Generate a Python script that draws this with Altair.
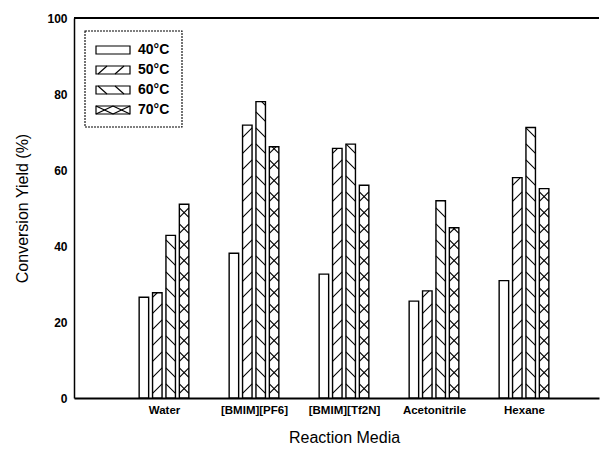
import json
import altair as alt
import pandas as pd

# ---------------- data ----------------
media = ["Water", "[BMIM][PF6]", "[BMIM][Tf2N]", "Acetonitrile", "Hexane"]
temps = ["40°C", "50°C", "60°C", "70°C"]
yield_40 = [26.5, 38.1, 32.6, 25.5, 30.9]
yield_50 = [27.7, 71.8, 65.7, 28.2, 58.0]
yield_60 = [42.8, 78.0, 66.8, 51.9, 71.2]
yield_70 = [51.0, 66.1, 56.0, 44.8, 55.1]
y_ticks = [0, 20, 40, 60, 80, 100]

# ---------------- layout / style ----------------
W, H = 525, 380
PX_X = 90.0                 # pixels per category step
PX_Y = H / 100.0            # pixels per percent
X_MAX = W / PX_X
STEP = 13.4 / PX_X          # distance between bars in a group
HALF = 4.75 / PX_X          # half bar width
PERIOD = 16 / PX_Y          # hatch repeat (y units)
RISE = 9.5 / PX_Y           # hatch rise across a bar
PHASE = 1.2
patterns = ["none", "fwd", "back", "cross"]
FONT = "Liberation Sans"


def ux(px):
    return px / PX_X


def uy(py):
    return 100 - py / PX_Y


def clip_seg(x0, y0, x1, y1, lo, hi):
    dy = y1 - y0
    ta, tb = (lo - y0) / dy, (hi - y0) / dy
    t0 = max(0.0, min(ta, tb))
    t1 = min(1.0, max(ta, tb))
    if t1 - t0 < 0.04:
        return None
    return (x0 + t0 * (x1 - x0), y0 + t0 * dy, x0 + t1 * (x1 - x0), y0 + t1 * dy)


series = [yield_40, yield_50, yield_60, yield_70]
bar_rows, hatch_rows = [], []
for j, (t, vals) in enumerate(zip(temps, series)):
    for i, (m, v) in enumerate(zip(media, vals)):
        c = (i + 1) + (j - 1.5) * STEP
        xl, xr = c - HALF, c + HALF
        bar_rows.append({"media": m, "temp": t, "xl": xl, "xr": xr, "v": v})
        pat = patterns[j]
        if pat == "none":
            continue
        for k in range(-1, int(v / PERIOD) + 2):
            base = k * PERIOD + PHASE
            segs = []
            if pat in ("fwd", "cross"):
                segs.append((xl, base, xr, base + RISE))
            if pat in ("back", "cross"):
                segs.append((xl, base + RISE, xr, base))
            for s in segs:
                cs = clip_seg(*s, 0, v)
                if cs:
                    hatch_rows.append({"x0": cs[0], "y0": cs[1], "x1": cs[2], "y1": cs[3]})

bars_df = pd.DataFrame(bar_rows)
hatch_df = pd.DataFrame(hatch_rows)

# ---------------- legend (built in plot pixels, converted to data units) ----------------
LEG_L, LEG_R, LEG_T, LEG_B = 11, 108, 13, 109
SW_L, SW_R, SW_H = 22, 56, 8
centers = [32, 52, 72, 92]
leg_sw, leg_hatch, leg_txt = [], [], []
for j, (t, cy) in enumerate(zip(temps, centers)):
    top, bot = cy - SW_H / 2, cy + SW_H / 2
    leg_sw.append({"x0": ux(SW_L), "x1": ux(SW_R), "y0": uy(top), "y1": uy(bot)})
    leg_txt.append({"x": ux(64), "y": uy(cy), "t": t})
    pat = patterns[j]
    lines = []
    if pat == "fwd":
        for a in (2, 19):
            lines.append((SW_L + a, bot, SW_L + a + 9, top))
    elif pat == "back":
        for a in (2, 19):
            lines.append((SW_L + a, top, SW_L + a + 9, bot))
    elif pat == "cross":
        for a in (0, 17):
            lines.append((SW_L + a, bot, SW_L + a + 17, top))
            lines.append((SW_L + a, top, SW_L + a + 17, bot))
    for (a0, b0, a1, b1) in lines:
        leg_hatch.append({"x0": ux(a0), "y0": uy(b0), "x1": ux(a1), "y1": uy(b1)})

frame_df = pd.DataFrame([{"x0": ux(LEG_L), "x1": ux(LEG_R), "y0": uy(LEG_T), "y1": uy(LEG_B)}])
leg_sw_df = pd.DataFrame(leg_sw)
leg_hatch_df = pd.DataFrame(leg_hatch)
leg_txt_df = pd.DataFrame(leg_txt)

# ---------------- scales / axes ----------------
xs = alt.Scale(domain=[0, X_MAX], nice=False, zero=False)
ys = alt.Scale(domain=[0, 100], nice=False)
x_axis = alt.Axis(
    values=[1, 2, 3, 4, 5],
    labelExpr=json.dumps([""] + media).replace('"', "'") + "[datum.value]",
    ticks=False, grid=False, domainColor="black", domainWidth=2,
    labelFont=FONT, labelFontSize=11.5, labelFontWeight="bold", labelColor="black",
    labelPadding=6, labelFlush=False,
    titleFont=FONT, titleFontSize=16, titleFontWeight="normal", titleColor="black",
    titleX=270, titleY=44, titleBaseline="alphabetic", titleAlign="center",
)
y_axis = alt.Axis(
    values=y_ticks, grid=False, ticks=False, domainColor="black", domainWidth=1.5,
    labelFont=FONT, labelFontSize=12, labelFontWeight="bold", labelColor="black",
    labelPadding=7,
    titleFont=FONT, titleFontSize=16, titleFontWeight="normal", titleColor="black",
    titleX=-47, titleY=190, titleAngle=270, titleBaseline="alphabetic", titleAlign="center",
)
XT, YT = "Reaction Media", "Conversion Yield (%)"


def X(f):
    return alt.X(f, type="quantitative", scale=xs, axis=x_axis, title=XT)


def Y(f):
    return alt.Y(f, type="quantitative", scale=ys, axis=y_axis, title=YT)


bars = alt.Chart(bars_df).mark_bar(fill="white", stroke="black", strokeWidth=1.4).encode(
    x=X("xl"), x2=alt.X2("xr"), y=Y("v"), y2=alt.Y2(datum=0)
)
hatch = alt.Chart(hatch_df).mark_rule(color="black", strokeWidth=1.1).encode(
    x=X("x0"), x2=alt.X2("x1"), y=Y("y0"), y2=alt.Y2("y1")
)
top_line = alt.Chart(pd.DataFrame({"v": [100]})).mark_rule(color="black", strokeWidth=2).encode(
    y=Y("v")
)
frame = alt.Chart(frame_df).mark_rect(
    fill="white", stroke="black", strokeWidth=1.1, strokeDash=[2, 1]
).encode(x=X("x0"), x2=alt.X2("x1"), y=Y("y0"), y2=alt.Y2("y1"))
sw = alt.Chart(leg_sw_df).mark_rect(fill="white", stroke="black", strokeWidth=1.2).encode(
    x=X("x0"), x2=alt.X2("x1"), y=Y("y0"), y2=alt.Y2("y1")
)
lh = alt.Chart(leg_hatch_df).mark_rule(color="black", strokeWidth=1.1).encode(
    x=X("x0"), x2=alt.X2("x1"), y=Y("y0"), y2=alt.Y2("y1")
)
lt = alt.Chart(leg_txt_df).mark_text(
    align="left", baseline="middle", font=FONT, fontSize=14, fontWeight="bold", color="black"
).encode(x=X("x"), y=Y("y"), text="t:N")

chart = alt.layer(bars, hatch, top_line, frame, sw, lh, lt).properties(
    width=W, height=H,
    autosize=alt.AutoSizeParams(type="none"),
    padding={"left": 66, "top": 10, "right": 4, "bottom": 46},
    background="white",
).configure_view(stroke=None)

chart.save("out.html", embed_options={"renderer": "svg", "actions": False})
